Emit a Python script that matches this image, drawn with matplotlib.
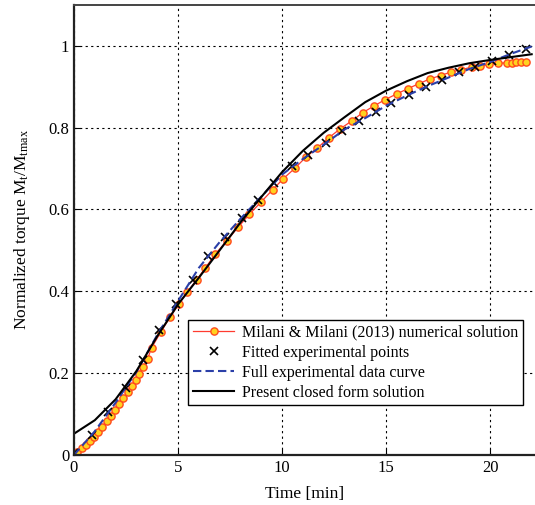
import matplotlib
matplotlib.use("Agg")
import matplotlib.pyplot as plt
from matplotlib.ticker import FuncFormatter

plt.rcParams['font.family'] = ['Liberation Serif', 'DejaVu Serif']
plt.rcParams['mathtext.fontset'] = 'custom'
plt.rcParams['mathtext.rm'] = 'Liberation Serif'
plt.rcParams['mathtext.it'] = 'Liberation Serif:italic'

# Milani & Milani (2013) numerical solution
milani_t = [0.13, 0.37, 0.58, 0.77, 0.96, 1.17, 1.36, 1.57, 1.76, 1.97, 2.18, 2.37, 2.58, 2.77,
            2.97, 3.14, 3.33, 3.54, 3.73, 4.17, 4.62, 5.06, 5.45, 5.9, 6.3, 6.78, 7.34, 7.9,
            8.43, 8.99, 9.55, 10.06, 10.63, 11.15, 11.7, 12.25, 12.8, 13.35, 13.87, 14.4,
            14.95, 15.51, 16.05, 16.58, 17.12, 17.63, 18.14, 18.62, 19.12, 19.52, 19.97,
            20.38, 20.82, 21.04, 21.27, 21.5, 21.72]
milani_y = [0.008, 0.016, 0.024, 0.033, 0.045, 0.057, 0.069, 0.083, 0.096, 0.11, 0.124, 0.139,
            0.154, 0.169, 0.184, 0.199, 0.215, 0.235, 0.262, 0.3, 0.337, 0.37, 0.398, 0.428,
            0.456, 0.49, 0.523, 0.557, 0.588, 0.618, 0.648, 0.675, 0.701, 0.728, 0.75, 0.775,
            0.797, 0.816, 0.836, 0.852, 0.868, 0.882, 0.895, 0.907, 0.919, 0.927, 0.936,
            0.941, 0.948, 0.95, 0.954, 0.957, 0.958, 0.958, 0.959, 0.959, 0.96]

# Fitted experimental points
exp_t = [0.0, 0.85, 1.65, 2.5, 3.33, 4.1, 4.9, 5.7, 6.45, 7.25, 8.06, 8.85, 9.6, 10.5, 11.27,
         12.1, 12.9, 13.7, 14.5, 15.25, 16.1, 16.92, 17.7, 18.5, 19.28, 20.1, 20.93, 21.72]
exp_y = [0.005, 0.049, 0.105, 0.163, 0.232, 0.305, 0.37, 0.428, 0.485, 0.532, 0.58, 0.624,
         0.665, 0.705, 0.733, 0.762, 0.792, 0.815, 0.837, 0.86, 0.88, 0.9, 0.915, 0.935,
         0.947, 0.962, 0.978, 0.992]

# Full experimental data curve
full_t = [0, 1, 2, 3, 4, 5, 6, 7, 8, 9, 10, 11, 12, 13, 14, 15, 16, 17, 18, 19, 20, 21, 22]
full_y = [0.0, 0.058, 0.128, 0.203, 0.293, 0.376, 0.457, 0.52, 0.577, 0.631, 0.685, 0.723,
          0.758, 0.795, 0.823, 0.853, 0.878, 0.901, 0.922, 0.943, 0.96, 0.98, 0.998]

# Present closed form solution
closed_t = [0, 1, 2, 3, 4, 5, 6, 7, 8, 9, 10, 11, 12, 13, 14, 15, 16, 17, 18, 19, 20, 21, 22]
closed_y = [0.052, 0.085, 0.136, 0.205, 0.29, 0.368, 0.433, 0.5, 0.568, 0.63, 0.691, 0.743,
            0.787, 0.825, 0.862, 0.89, 0.913, 0.933, 0.946, 0.957, 0.965, 0.972, 0.979]

x_ticks = [0, 5, 10, 15, 20]
y_ticks = [0, 0.2, 0.4, 0.6, 0.8, 1.0]

fig = plt.figure(figsize=(5.35, 5.05), dpi=100)
ax = fig.add_axes([74/535, 1-455/505, 1-74/535, (455-4.7)/505])

ax.plot(milani_t, milani_y, '-', color='#ff3b2f', lw=0.9, marker='o', ms=5.2,
        mfc='#ffd21f', mec='#ff4a1c', mew=1.0,
        label='Milani & Milani (2013) numerical solution')
ax.plot(exp_t, exp_y, 'x', color='black', ms=6, mew=1.2, label='Fitted experimental points')
ax.plot(full_t, full_y, '--', color='#2b3fa8', lw=1.5, dashes=(4, 2),
        label='Full experimental data curve')
ax.plot(closed_t, closed_y, '-', color='black', lw=1.5, label='Present closed form solution')

ax.set_xlim(0, 22.16)
ax.set_ylim(0, 1.1)
ax.set_xticks(x_ticks)
ax.set_yticks(y_ticks)
fmt = FuncFormatter(lambda v, p: '%g' % v)
ax.xaxis.set_major_formatter(fmt)
ax.yaxis.set_major_formatter(fmt)
ax.tick_params(direction='in', length=4, labelsize=12, width=0.8)
ax.grid(True, color='black', linestyle=(0, (2, 3)), linewidth=0.8)

for s in ['left', 'bottom']:
    ax.spines[s].set_linewidth(1.6)
    ax.spines[s].set_color('#222222')
ax.spines['top'].set_linewidth(1.4)
ax.spines['top'].set_color('#444444')
ax.spines['right'].set_visible(False)

ax.set_xlabel('Time [min]', fontsize=12.5, labelpad=7)
ax.set_ylabel(r'Normalized torque M$_\mathrm{t}$/M$_\mathrm{tmax}$', fontsize=12.5, labelpad=12)

leg = ax.legend(loc='lower right', bbox_to_anchor=(0.975, 0.11), fontsize=11.5,
                fancybox=False, edgecolor='black', framealpha=1, handlelength=2.6,
                labelspacing=0.25, borderpad=0.3, handletextpad=0.5, borderaxespad=0)
leg.get_frame().set_linewidth(1.0)

fig.savefig('out.png', dpi=100)
